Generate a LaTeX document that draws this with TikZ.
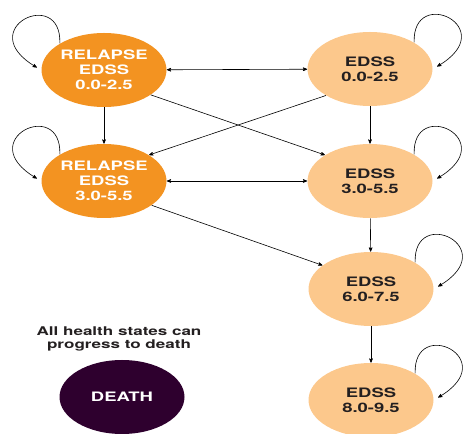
\documentclass[tikz,border=0pt]{standalone}
\usepackage{fontspec}
\setmainfont{TeX Gyre Heros}[FakeStretch=1.42]
\usepackage{tikz}
\usetikzlibrary{arrows}
\usetikzlibrary{shapes.geometric}
\definecolor{relapse}{RGB}{243,147,33}
\definecolor{edss}{RGB}{252,200,140}
\definecolor{death}{RGB}{46,0,46}
\definecolor{ink}{RGB}{35,31,32}
\tikzset{st/.style={ellipse,minimum width=125pt,minimum height=74pt,inner sep=0pt,align=center}}
\tikzset{rl/.style={st,fill=relapse,text=white}}
\tikzset{ed/.style={st,fill=edss,text=ink}}
\tikzset{dt/.style={st,fill=death,text=white}}
\tikzset{lp/.style={->,shorten >=5pt}}

\begin{document}
\begin{tikzpicture}[x=1pt,y=1pt,>=stealth',semithick]
        \useasboundingbox (0,0) rectangle (464,434);
        \begin{scope}[font=\fontsize{13}{15}\selectfont\bfseries]
          \node[rl] (R1) at (104,364) {RELAPSE\\EDSS\\0.0-2.5};
          \node[rl] (R2) at (104,253) {RELAPSE\\EDSS\\3.0-5.5}
            edge [<-] (R1);
          \node[ed] (E1) at (370,365) {EDSS\\0.0-2.5}
            edge [<->] (R1);
          \node[ed] (E2) at (370,253) {EDSS\\3.0-5.5}
            edge [<-] (E1)
            edge [<->] (R2);
          \node[ed] (E3) at (371,145) {EDSS\\6.0-7.5}
            edge [<-] (E2);
          \node[ed] (E4) at (371,34) {EDSS\\8.0-9.5}
            edge [<-] (E3);
          \node[dt] (D) at (122,37) {DEATH};
          \node[text=ink,align=center,font=\fontsize{12}{13}\selectfont\bfseries] (note) at (119,95.5)
            {All health states can\\progress to death};
          % crossing arrows
          \draw[->] (R1.-28) -- (E2.150);
          \draw[->] (E1.211) -- (R2.30);
          \draw[->] (R2.-27) -- (E3.154);
          % self loops
          \draw[lp] (R1.149) .. controls +(2,58) and +(-70,41) .. (R1.west);
          \draw[lp] (R2.149) .. controls +(2,58) and +(-70,41) .. (R2.west);
          \draw[lp] (E1.31) .. controls +(-2,58) and +(70,41) .. (E1.east);
          \draw[lp] (E2.31) .. controls +(-2,58) and +(70,41) .. (E2.east);
          \draw[lp] (E3.31) .. controls +(-2,58) and +(70,41) .. (E3.east);
          \draw[lp] (E4.31) .. controls +(-2,58) and +(70,41) .. (E4.east);
        \end{scope}
      \end{tikzpicture}
\end{document}
